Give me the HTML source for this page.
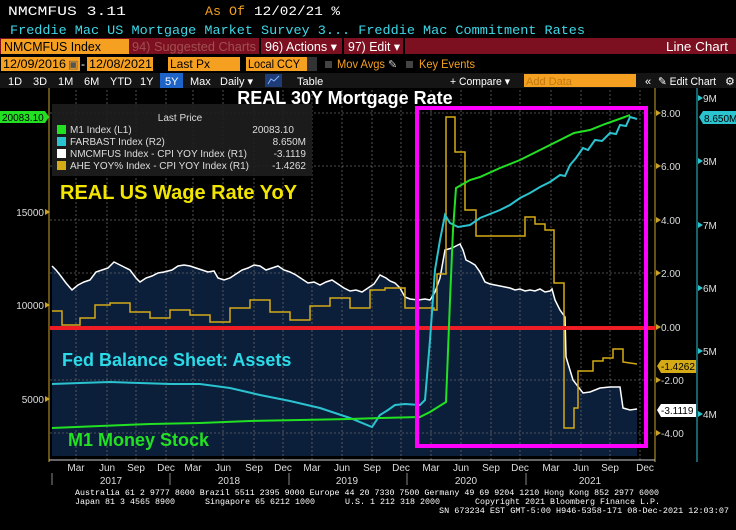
<!DOCTYPE html>
<html><head><meta charset="utf-8"><style>
html,body{margin:0;padding:0;background:#000;}
svg{display:block}
text{font-family:"Liberation Sans",sans-serif;}
.m{font-family:"Liberation Mono",monospace;}
</style></head><body>
<svg width="736" height="530" viewBox="0 0 736 530" xmlns="http://www.w3.org/2000/svg">
<rect width="736" height="530" fill="#000"/>
<text class="m" x="8" y="15" font-size="13" fill="#fff" textLength="118" lengthAdjust="spacingAndGlyphs">NMCMFUS   3.11</text>
<text class="m" x="205" y="15" font-size="13" fill="#f5a020" textLength="40" lengthAdjust="spacingAndGlyphs">As Of</text>
<text class="m" x="254" y="15" font-size="13" fill="#fff" textLength="86" lengthAdjust="spacingAndGlyphs">12/02/21  %</text>
<text class="m" x="10" y="34" font-size="13" fill="#3ed8e8" textLength="575" lengthAdjust="spacingAndGlyphs">Freddie Mac US Mortgage Market Survey 3...  Freddie Mac Commitment Rates</text>
<rect x="0" y="38" width="736" height="16" fill="#7c1020"/>
<rect x="1" y="39" width="128" height="15" fill="#f5a020"/>
<text x="4" y="51" font-size="12.5" fill="#000" textLength="97" lengthAdjust="spacingAndGlyphs">NMCMFUS Index</text>
<text x="132" y="51" font-size="12.5" fill="#a05050" textLength="124" lengthAdjust="spacingAndGlyphs">94) Suggested Charts</text>
<rect x="259" y="38" width="2" height="16" fill="#000"/>
<text x="265" y="51" font-size="12.5" fill="#fff" textLength="72" lengthAdjust="spacingAndGlyphs">96) Actions ▾</text>
<rect x="342" y="38" width="2" height="16" fill="#000"/>
<text x="348" y="51" font-size="12.5" fill="#fff" textLength="52" lengthAdjust="spacingAndGlyphs">97) Edit ▾</text>
<rect x="403" y="38" width="2" height="16" fill="#000"/>
<text x="666" y="51" font-size="12.5" fill="#fff" textLength="62" lengthAdjust="spacingAndGlyphs">Line Chart</text>
<rect x="1" y="57" width="79" height="14" fill="#f5a020"/>
<text x="3" y="68" font-size="12" fill="#000" textLength="63" lengthAdjust="spacingAndGlyphs">12/09/2016</text>
<text x="68" y="68" font-size="11" fill="#555">▣</text>
<text x="81" y="68" font-size="12" fill="#fff">-</text>
<rect x="87" y="57" width="66" height="14" fill="#f5a020"/>
<text x="89" y="68" font-size="12" fill="#000" textLength="63" lengthAdjust="spacingAndGlyphs">12/08/2021</text>
<rect x="168" y="57" width="72" height="14" fill="#f5a020"/>
<text x="170" y="68" font-size="12" fill="#000">Last Px</text>
<rect x="246" y="57" width="71" height="14" fill="#f5a020"/>
<rect x="307" y="57" width="10" height="14" fill="#333"/>
<text x="248" y="68" font-size="12" fill="#000" textLength="52" lengthAdjust="spacingAndGlyphs">Local CCY</text>
<rect x="325" y="61" width="7" height="7" fill="#444"/>
<text x="337" y="68" font-size="12" fill="#f5a020" textLength="48" lengthAdjust="spacingAndGlyphs">Mov Avgs</text>
<text x="388" y="68" font-size="11" fill="#ccc">✎</text>
<rect x="406" y="61" width="7" height="7" fill="#444"/>
<text x="419" y="68" font-size="12" fill="#f5a020" textLength="56" lengthAdjust="spacingAndGlyphs">Key Events</text>
<rect x="0" y="73" width="736" height="15" fill="#151515"/>
<rect x="160" y="73" width="23" height="15" fill="#1e64c8"/>
<rect x="265" y="74" width="17" height="13" fill="#1e3c78"/>
<g font-size="11" fill="#fff">
<text x="8" y="85">1D</text><text x="33" y="85">3D</text><text x="58" y="85">1M</text><text x="84" y="85">6M</text><text x="110" y="85">YTD</text><text x="140" y="85">1Y</text><text x="165" y="85">5Y</text><text x="190" y="85">Max</text><text x="220" y="85">Daily ▾</text><text x="297" y="85">Table</text>
<text x="450" y="85" textLength="60" lengthAdjust="spacingAndGlyphs">+ Compare ▾</text>
<text x="645" y="85">«</text><text x="658" y="85" textLength="58" lengthAdjust="spacingAndGlyphs">✎ Edit Chart</text><text x="725" y="85">⚙</text>
</g>
<polyline points="268,84 271,79 274,81 279,76" fill="none" stroke="#8ab4ff" stroke-width="1"/>
<rect x="524" y="74" width="112" height="13" fill="#f5a020"/>
<text x="526" y="85" font-size="11" fill="#c07a10">Add Data</text>

<polygon fill="#0b1f3a" points="52,266 56,270 60,275 66,283 72,290 78,285 84,282 90,280 96,272 102,270 108,268 114,262 118,264 124,267 130,270 136,278 140,282 146,278 152,276 158,273 164,272 172,270 178,266 184,265 190,266 196,268 202,270 208,272 214,271 218,278 224,280 230,278 236,274 242,270 248,268 254,265 260,266 266,270 272,268 278,266 284,270 290,272 296,275 302,279 308,283 314,282 320,285 326,282 332,280 338,284 344,288 350,291 356,290 362,292 368,288 374,284 380,275 386,278 390,281 395,283 400,288 405,297 410,299 418,300 425,299 430,300 435,292 440,278 445,250 452,248 456,246 460,244 463,250 466,260 470,262 475,265 480,272 485,282 490,284 495,285 505,287 510,288 515,290 520,289 525,291 530,290 535,291 540,289 545,292 550,291 552,289 555,300 560,310 565,317 566,357 573,380 583,393 590,392 600,388 610,387 620,387 623,408 630,410 637,409 637,456 52,456"/>
<g stroke="#666" stroke-width="0.8" stroke-dasharray="2,2">
<line x1="50" y1="166" x2="655" y2="166"/><line x1="50" y1="220" x2="655" y2="220"/><line x1="50" y1="273" x2="655" y2="273"/><line x1="50" y1="380" x2="655" y2="380"/><line x1="50" y1="433" x2="655" y2="433"/><line x1="50" y1="113" x2="655" y2="113"/>
<line x1="76" y1="90" x2="76" y2="460"/><line x1="107" y1="90" x2="107" y2="460"/><line x1="136" y1="90" x2="136" y2="460"/><line x1="166" y1="90" x2="166" y2="460"/><line x1="193" y1="90" x2="193" y2="460"/><line x1="223" y1="90" x2="223" y2="460"/><line x1="254" y1="90" x2="254" y2="460"/><line x1="283" y1="90" x2="283" y2="460"/><line x1="312" y1="90" x2="312" y2="460"/><line x1="342" y1="90" x2="342" y2="460"/><line x1="372" y1="90" x2="372" y2="460"/><line x1="401" y1="90" x2="401" y2="460"/><line x1="431" y1="90" x2="431" y2="460"/><line x1="461" y1="90" x2="461" y2="460"/><line x1="491" y1="90" x2="491" y2="460"/><line x1="520" y1="90" x2="520" y2="460"/><line x1="551" y1="90" x2="551" y2="460"/><line x1="581" y1="90" x2="581" y2="460"/><line x1="610" y1="90" x2="610" y2="460"/><line x1="640" y1="90" x2="640" y2="460"/>
</g>
<line x1="49" y1="88" x2="49" y2="462" stroke="#c9a227" stroke-width="1"/>
<line x1="655" y1="88" x2="655" y2="462" stroke="#c9a227" stroke-width="1"/>
<line x1="697" y1="88" x2="697" y2="462" stroke="#2bc3d0" stroke-width="1"/>
<line x1="49" y1="460" x2="655" y2="460" stroke="#ccc" stroke-width="1"/>
<g font-size="10" fill="#ddd">
<text x="44" y="216" text-anchor="end">15000</text><text x="44" y="309" text-anchor="end">10000</text><text x="44" y="403" text-anchor="end">5000</text>
<text x="661" y="117">8.00</text><text x="661" y="170">6.00</text><text x="661" y="224">4.00</text><text x="661" y="277">2.00</text><text x="661" y="331">0.00</text><text x="661" y="384">-2.00</text><text x="661" y="437">-4.00</text>
<text x="703" y="102">9M</text><text x="703" y="165">8M</text><text x="703" y="229">7M</text><text x="703" y="292">6M</text><text x="703" y="355">5M</text><text x="703" y="418">4M</text>
</g>
<g fill="#c9a227"><path d="M45,209l5,3-5,3z"/><path d="M45,302l5,3-5,3z"/><path d="M45,396l5,3-5,3z"/>
<path d="M656,110l5,3-5,3z"/><path d="M656,163l5,3-5,3z"/><path d="M656,217l5,3-5,3z"/><path d="M656,270l5,3-5,3z"/><path d="M656,324l5,3-5,3z"/><path d="M656,377l5,3-5,3z"/><path d="M656,430l5,3-5,3z"/></g>
<g fill="#2bc3d0"><path d="M698,95l5,3-5,3z"/><path d="M698,158l5,3-5,3z"/><path d="M698,222l5,3-5,3z"/><path d="M698,285l5,3-5,3z"/><path d="M698,348l5,3-5,3z"/><path d="M698,411l5,3-5,3z"/></g>
<g font-size="10" fill="#ddd" text-anchor="middle">
<text x="76" y="471">Mar</text><text x="107" y="471">Jun</text><text x="136" y="471">Sep</text><text x="166" y="471">Dec</text><text x="193" y="471">Mar</text><text x="223" y="471">Jun</text><text x="254" y="471">Sep</text><text x="283" y="471">Dec</text><text x="312" y="471">Mar</text><text x="342" y="471">Jun</text><text x="372" y="471">Sep</text><text x="401" y="471">Dec</text><text x="431" y="471">Mar</text><text x="461" y="471">Jun</text><text x="491" y="471">Sep</text><text x="520" y="471">Dec</text><text x="551" y="471">Mar</text><text x="581" y="471">Jun</text><text x="610" y="471">Sep</text><text x="645" y="471">Dec</text>
<text x="111" y="484">2017</text><text x="229" y="484">2018</text><text x="347" y="484">2019</text><text x="466" y="484">2020</text><text x="590" y="484">2021</text>
</g>
<g stroke="#888"><line x1="52" y1="473" x2="52" y2="485"/><line x1="170" y1="473" x2="170" y2="485"/><line x1="289" y1="473" x2="289" y2="485"/><line x1="407" y1="473" x2="407" y2="485"/><line x1="526" y1="473" x2="526" y2="485"/></g>
<g font-size="8.5" fill="#fff">
<text class="m" x="75" y="495" textLength="584" lengthAdjust="spacingAndGlyphs">Australia 61 2 9777 8600 Brazil 5511 2395 9000 Europe 44 20 7330 7500 Germany 49 69 9204 1210 Hong Kong 852 2977 6000</text>
<text class="m" x="75" y="504" textLength="100" lengthAdjust="spacingAndGlyphs">Japan 81 3 4565 8900</text>
<text class="m" x="205" y="504" textLength="110" lengthAdjust="spacingAndGlyphs">Singapore 65 6212 1000</text>
<text class="m" x="345" y="504" textLength="95" lengthAdjust="spacingAndGlyphs">U.S. 1 212 318 2000</text>
<text class="m" x="475" y="504" textLength="185" lengthAdjust="spacingAndGlyphs">Copyright 2021 Bloomberg Finance L.P.</text>
<text class="m" x="439" y="513" textLength="290" lengthAdjust="spacingAndGlyphs">SN 673234 EST  GMT-5:00 H946-5358-171 08-Dec-2021 12:03:07</text>
</g>
<polyline fill="none" stroke="#fff" stroke-width="1.5" points="52,266 56,270 60,275 66,283 72,290 78,285 84,282 90,280 96,272 102,270 108,268 114,262 118,264 124,267 130,270 136,278 140,282 146,278 152,276 158,273 164,272 172,270 178,266 184,265 190,266 196,268 202,270 208,272 214,271 218,278 224,280 230,278 236,274 242,270 248,268 254,265 260,266 266,270 272,268 278,266 284,270 290,272 296,275 302,279 308,283 314,282 320,285 326,282 332,280 338,284 344,288 350,291 356,290 362,292 368,288 374,284 380,275 386,278 390,281 395,283 400,288 405,297 410,299 418,300 425,299 430,300 435,292 440,278 445,250 452,248 456,246 460,244 463,250 466,260 470,262 475,265 480,272 485,282 490,284 495,285 505,287 510,288 515,290 520,289 525,291 530,290 535,291 540,289 545,292 550,291 552,289 555,300 560,310 565,317 566,357 573,380 583,393 590,392 600,388 610,387 620,387 623,408 630,410 637,409"/>
<polyline fill="none" stroke="#d4aa17" stroke-width="1.5" points="52,311 62,311 62,325 80,325 80,318 95,318 95,305 110,305 110,303 130,303 130,312 150,312 150,318 170,318 170,310 190,310 190,315 210,315 210,322 230,322 230,308 250,308 250,300 270,300 270,312 290,312 290,320 310,320 310,306 330,306 330,298 350,298 350,308 370,308 370,290 385,290 385,288 405,288 405,308 434,308 434,310 437,310 437,274 446,274 446,117 455,117 455,152 465,152 465,210 476,210 476,236 525,236 525,217 535,217 535,224 545,224 545,230 554,230 554,283 564,283 564,428 574,428 574,408 578,408 578,371 593,371 593,361 603,361 603,358 613,358 613,349 623,349 623,362 637,364"/>
<line x1="50" y1="328" x2="655" y2="328" stroke="#ee1c24" stroke-width="4"/>
<polyline fill="none" stroke="#2bc3d0" stroke-width="2" points="52,384 80,383 110,382 140,383 170,384 200,384 230,388 260,395 290,401 320,408 350,418 372,427 380,415 388,410 395,405 405,404 420,405 425,400 430,340 435,270 440,240 445,215 450,223 458,227 470,225 480,218 490,214 500,210 510,205 520,198 530,193 540,187 550,182 560,175 565,176 570,165 576,158 583,148 588,150 595,140 602,141 610,133 616,134 620,125 626,126 630,117 637,119"/>
<polyline fill="none" stroke="#22e022" stroke-width="2" points="52,428 100,426 150,424 200,423 250,421 300,420 350,419 380,418 420,417 430,412 446,402 450,300 453,230 456,188 470,180 480,177 500,168 520,160 540,150 560,140 574,133 590,130 605,124 622,118 630,115"/>
<rect x="417" y="108" width="229" height="338" fill="none" stroke="#ff00ff" stroke-width="4"/>
<rect x="52" y="104" width="260" height="72" fill="#1e1e1e" opacity="0.9"/>
<g font-size="10" fill="#ddd">
<text x="180" y="121" text-anchor="middle">Last Price</text>
<rect x="57" y="125" width="9" height="9" fill="#22e022"/><text x="70" y="133">M1 Index  (L1)</text><text x="294" y="133" text-anchor="end">20083.10</text>
<rect x="57" y="137" width="9" height="9" fill="#2bc3d0"/><text x="70" y="145">FARBAST Index  (R2)</text><text x="306" y="145" text-anchor="end">8.650M</text>
<rect x="57" y="149" width="9" height="9" fill="#fff"/><text x="70" y="157">NMCMFUS Index - CPI YOY Index  (R1)</text><text x="306" y="157" text-anchor="end">-3.1119</text>
<rect x="57" y="161" width="9" height="9" fill="#d4aa17"/><text x="70" y="169">AHE YOY% Index - CPI YOY Index  (R1)</text><text x="306" y="169" text-anchor="end">-1.4262</text>
</g>
<path d="M0,111h45l4,6-4,6h-45z" fill="#22e022"/><text x="2" y="121" font-size="10" fill="#000">20083.10</text>
<path d="M699,117l4,-6h33v13h-33z" fill="#2bc3d0"/><text x="704" y="122" font-size="10" fill="#000">8.650M</text>
<path d="M657,366l4,-6h35v13h-35z" fill="#d4aa17"/><text x="661" y="370" font-size="10" fill="#000">-1.4262</text>
<path d="M657,410l4,-6h35v13h-35z" fill="#fff"/><text x="661" y="414" font-size="10" fill="#000">-3.1119</text>
<text x="345" y="104" font-size="18" font-weight="bold" fill="#fff" text-anchor="middle">REAL 30Y Mortgage Rate</text>
<text x="60" y="199" font-size="20" font-weight="bold" fill="#f2e600">REAL US Wage Rate YoY</text>
<text x="62" y="366" font-size="18" font-weight="bold" fill="#2bdbe8">Fed Balance Sheet: Assets</text>
<text x="68" y="446" font-size="18" font-weight="bold" fill="#22e022">M1 Money Stock</text>
</svg>
</body></html>
